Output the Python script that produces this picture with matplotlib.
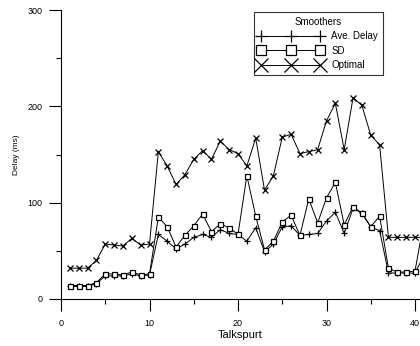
import matplotlib
matplotlib.use("Agg")
import matplotlib.pyplot as plt
from matplotlib.ticker import MultipleLocator

plt.rcParams['font.family'] = ['Liberation Sans', 'DejaVu Sans']

talkspurt = list(range(1, 42))
ave_delay = [13, 13, 13, 16, 24, 24, 24, 26, 24, 25,
             67, 60, 52, 57, 64, 67, 64, 72, 68, 67,
             60, 74, 49, 57, 75, 76, 66, 67, 68, 81,
             90, 68, 94, 89, 75, 71, 27, 27, 27, 27, 45]
sd = [14, 14, 14, 17, 26, 26, 25, 28, 25, 26,
      85, 75, 54, 66, 76, 88, 70, 78, 74, 67,
      128, 86, 51, 60, 80, 87, 66, 104, 79, 105,
      121, 77, 96, 89, 75, 86, 32, 28, 28, 29, 80]
optimal = [32, 32, 32, 40, 57, 56, 55, 63, 56, 57,
           153, 138, 119, 129, 145, 154, 145, 164, 155, 151,
           138, 167, 113, 128, 168, 171, 151, 153, 155, 185,
           203, 155, 209, 201, 170, 160, 64, 64, 64, 64, 64]

fig = plt.figure(figsize=(4.2, 3.46), dpi=100)
ax = fig.add_axes([61/420, 47/346, (420-61)/420, 289/346])

lw = 0.7
ax.plot(talkspurt, ave_delay, color='black', lw=lw, marker='+', ms=4.5, mew=0.9,
        label='Ave. Delay')
ax.plot(talkspurt, sd, color='black', lw=lw, marker='s', ms=3.6, mew=0.9,
        mfc='white', label='SD')
ax.plot(talkspurt, optimal, color='black', lw=lw, marker='x', ms=4.8, mew=0.9,
        label='Optimal')

ax.set_xlim(0, (420-61)/8.85)
ax.set_ylim(0, 300)
for s in ['top', 'right']:
    ax.spines[s].set_visible(False)
ax.spines['left'].set_linewidth(0.8)
ax.spines['bottom'].set_linewidth(0.8)

ax.xaxis.set_major_locator(MultipleLocator(10))
ax.xaxis.set_minor_locator(MultipleLocator(5))
ax.yaxis.set_major_locator(MultipleLocator(100))
ax.yaxis.set_minor_locator(MultipleLocator(50))
ax.tick_params(which='major', direction='out', length=8.5, width=0.8,
               labelsize=6.5, pad=5)
ax.tick_params(which='minor', direction='out', length=3.5, width=0.8)
ax.tick_params(axis='x', which='major', pad=6)

ax.set_xlabel('Talkspurt', fontsize=8, labelpad=1)
ax.set_ylabel('Delay (ms)', fontsize=6, labelpad=5)

leg = ax.legend(title='Smoothers', loc='upper right',
                bbox_to_anchor=(0.897, 0.993), numpoints=3, markerscale=2.0,
                fontsize=7, title_fontsize=7, frameon=True, fancybox=False,
                edgecolor='black', handlelength=6.6, handletextpad=0.9,
                labelspacing=0.45, borderpad=0.5, borderaxespad=0)
leg.get_frame().set_linewidth(0.8)

fig.savefig('out.png', dpi=100)
